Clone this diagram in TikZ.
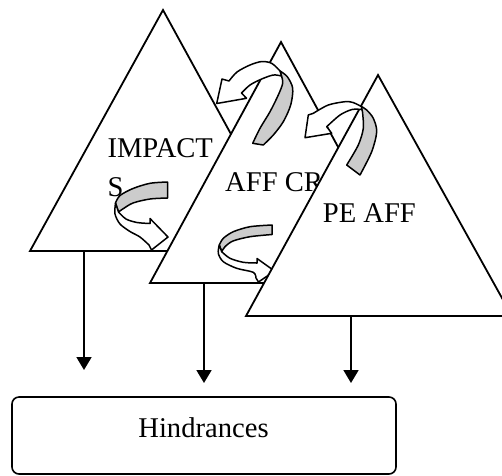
\documentclass[tikz,border=0pt]{standalone}
\usepackage{fontspec}
\setmainfont{Liberation Serif}
\usetikzlibrary{arrows.meta}
\definecolor{ribbon}{RGB}{204,204,204}
\begin{document}
\begin{tikzpicture}[x=1pt,y=-1pt,
  tri/.style={draw=black, fill=white, line width=1.8pt},
  lbl/.style={font=\fontsize{28.6}{40}\selectfont, inner sep=0pt, anchor=base west},
  flow/.style={line width=1.8pt, -{Triangle[length=13pt,width=15pt]}},
  face/.style={draw=black, line width=1.5pt, line join=round},
  back/.style={face, fill=white},
  front/.style={face, fill=ribbon},
  box/.style={draw=black, line width=1.6pt, rounded corners=7pt}]
\useasboundingbox (0,0) rectangle (502,475);

% corners of the three triangles
\coordinate (t1top) at (163,10);  \coordinate (t1l) at (30,251);  \coordinate (t1r) at (295,251);
\coordinate (t2top) at (281,42);  \coordinate (t2l) at (150,283); \coordinate (t2r) at (412,283);
\coordinate (t3top) at (378,75);  \coordinate (t3l) at (246,316); \coordinate (t3r) at (512,316);

% feet of the three downward flows and their free ends
\coordinate (f1) at (84,251);  \coordinate (e1) at (84,370);
\coordinate (f2) at (204,283); \coordinate (e2) at (204,383);
\coordinate (f3) at (351,316); \coordinate (e3) at (351,383);

% IMPACTS triangle
\filldraw[tri] (t1top) -- (t1r) -- (t1l) -- cycle;
\node[lbl] (impact) at (107.3,157.3) {IMPACT};
\node[lbl] (impactS) at (107.3,196.7) {S};

% AFF CR triangle
\filldraw[tri] (t2top) -- (t2r) -- (t2l) -- cycle;
\node[lbl] (affcr) at (225,191.7) {AFF CR};

% curled arrow inside IMPACTS
\filldraw[front] (167.5,182) -- (167.5,198)
  -- plot[smooth] coordinates {(167.5,198) (150,199) (133,203) (122,209.5) (118.5,212)}
  -- plot[smooth] coordinates {(115.5,203) (120,195.5) (133,188.5) (150,183.3) (167.5,182)} -- cycle;
\filldraw[back] plot[smooth] coordinates {(115.5,203) (115,214) (120,224) (130,231.5) (140,237) (149,245)}
  -- (151.5,250) -- (168,237) -- (150,218.5) -- (150,223.5)
  -- plot[smooth] coordinates {(150,223.5) (137,222.5) (126,219) (118.5,212)} -- cycle;

% curled arrow inside AFF CR
\filldraw[front] (272,225) -- (272,234.5)
  -- plot[smooth] coordinates {(272,234.5) (250,236.7) (233,241) (225,246.7) (221.7,251.7)}
  -- plot[smooth] coordinates {(219.3,245) (223.3,238.3) (233.3,231.7) (250,226.7) (272,225)} -- cycle;
\filldraw[back] plot[smooth] coordinates {(219.3,245) (218.3,253.3) (223.3,261.7) (236.7,268.3) (253.3,272.3) (256,278)}
  -- (258.5,282) -- (274.5,271) -- (257,258.5) -- (257,263)
  -- plot[smooth] coordinates {(257,263) (243.3,262.3) (230,258.3) (221.7,251.7)} -- cycle;

% PE AFF triangle
\filldraw[tri] (t3top) -- (t3r) -- (t3l) -- cycle;
\node[lbl] (peaff) at (322.7,222.7) {PE AFF};

% arching arrow from AFF CR back to IMPACTS
\filldraw[front] plot[smooth] coordinates {(280,71) (287.3,76.7) (292.7,88.3) (290.7,105) (283.3,121.7) (273.3,135) (263.3,145)}
  -- (252.7,143.3)
  -- plot[smooth] coordinates {(252.7,143.3) (260,128.3) (270,111.7) (278.3,95) (282.7,83.3) (281.5,76)} -- cycle;
\filldraw[back] plot[smooth] coordinates {(280,71) (272,63.5) (262,61.5) (250,65) (237,72) (229,81)}
  -- (222,79) -- (216.7,103.5) -- (246.5,98.3) -- (241.5,93)
  -- plot[smooth] coordinates {(241.5,93) (250,85) (261.7,79) (273.3,75) (281.5,76)} -- cycle;

% arching arrow from PE AFF back to AFF CR
\filldraw[front] plot[smooth] coordinates {(361.7,106.7) (366.7,110) (373.3,118.3) (376.7,131.7) (371.7,151.7) (360,175)}
  -- (346.7,165)
  -- plot[smooth] coordinates {(346.7,165) (358.3,145) (363.3,128.3) (362.5,112) (361.7,109.5)} -- cycle;
\filldraw[back] plot[smooth] coordinates {(361.7,106.7) (353,102.5) (345,101.7) (328.3,105) (313.3,113.3)}
  -- (308.3,115) -- (305,137.7) -- (331.7,133.3) -- (326.7,126.7)
  -- plot[smooth] coordinates {(326.7,126.7) (340,115) (352,109.5) (361.7,109.5)} -- cycle;

% flows down to the hindrances
\draw[flow] (f1) -- (e1);
\draw[flow] (f2) -- (e2);
\draw[flow] (f3) -- (e3);

% hindrances box
\draw[box] (12,397) rectangle (396,474);
\node[lbl, anchor=base] (hind) at (203.5,437.3) {Hindrances};
\end{tikzpicture}
\end{document}
